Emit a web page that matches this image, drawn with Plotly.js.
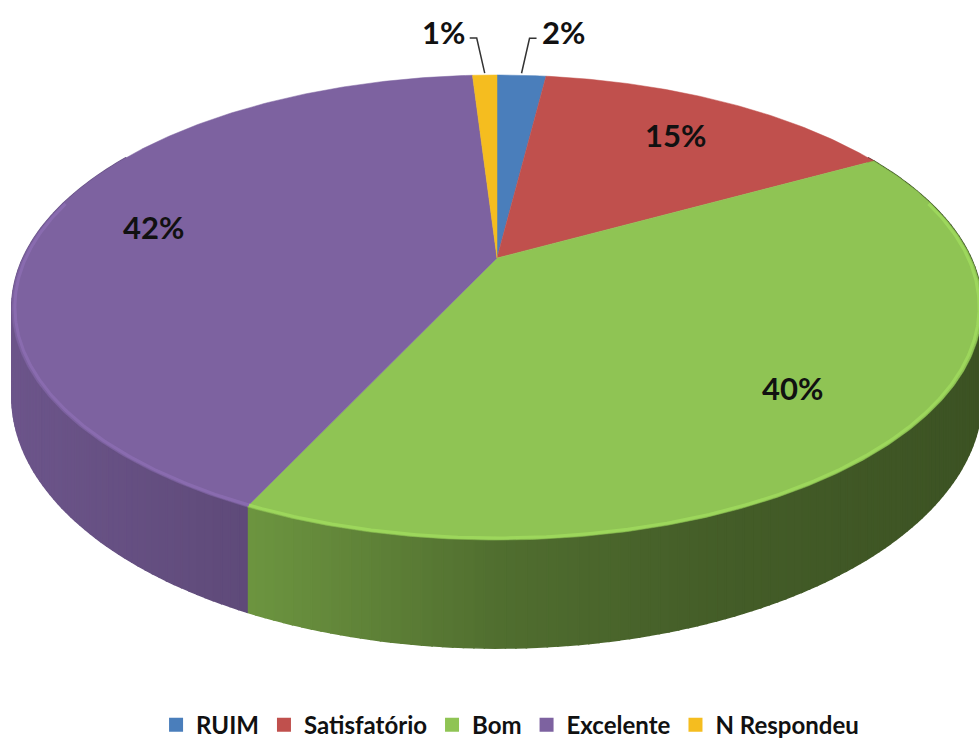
<!DOCTYPE html>
<html>
<head>
<meta charset="utf-8">
<script src="https://cdn.plot.ly/plotly-3.0.1.min.js"></script>
<style>html,body{margin:0;padding:0;background:#fff;}#chart{width:979px;height:740px;}</style>
</head>
<body>
<div id="chart"></div>
<script>
// ---- data ----
const categories = ['RUIM', 'Satisfatório', 'Bom', 'Excelente', 'N Respondeu'];
const values = [2, 15, 40, 42, 1];
const labels = values.map(v => v + '%');
const topColors = ['#4A7EBB', '#C0504D', '#8FC454', '#7D62A0', '#F5BD1F'];

// ---- geometry of the tilted disc (layout constants, pixel space) ----
const CX = 497, CY = 258, RA = 474, RB = 222, PERSP = 0.213, DEPTH = 85;
const total = values.reduce((a, b) => a + b, 0);

function proj(r, thetaDeg, drop) {
  const t = thetaDeg * Math.PI / 180;
  const u = r * Math.sin(t), v = -r * Math.cos(t);
  const den = 1 - PERSP * v;
  return { x: CX + RA * u / den, y: CY + RB * v / den + drop * DEPTH / den };
}
function hexToRgb(h) {
  return [parseInt(h.slice(1, 3), 16), parseInt(h.slice(3, 5), 16), parseInt(h.slice(5, 7), 16)];
}
const shadeStops = [[0, 0.87], [260, 0.75], [500, 0.56], [700, 0.48], [979, 0.42]];
function shadeFactor(x) {
  for (let i = 0; i < shadeStops.length - 1; i++) {
    const [x0, f0] = shadeStops[i], [x1, f1] = shadeStops[i + 1];
    if (x <= x1) return f0 + (f1 - f0) * Math.max(0, (x - x0) / (x1 - x0));
  }
  return shadeStops[shadeStops.length - 1][1];
}
function shade(hex, f) {
  const c = hexToRgb(hex).map(v => Math.round(Math.min(255, v * f)));
  return 'rgb(' + c.join(',') + ')';
}

// slice angles (clockwise from 12 o'clock)
const starts = [], ends = [];
let acc = 0;
values.forEach(v => { starts.push(acc / total * 360); acc += v; ends.push(acc / total * 360); });

const traces = [];
// side walls
values.forEach((v, i) => {
  const a0 = Math.max(starts[i], 60), a1 = Math.min(ends[i], 300);
  if (a1 <= a0) return;
  const n = Math.ceil((a1 - a0) / 1);
  for (let k = 0; k < n; k++) {
    const ta = a0 + (a1 - a0) * k / n, tb = a0 + (a1 - a0) * (k + 1) / n;
    const p1 = proj(1, ta, 0), p2 = proj(1, tb, 0), p3 = proj(1, tb, 1), p4 = proj(1, ta, 1);
    const col = shade(topColors[i], shadeFactor((p1.x + p2.x) / 2));
    traces.push({
      type: 'scatter', mode: 'lines', x: [p1.x, p2.x, p3.x, p4.x, p1.x], y: [p1.y, p2.y, p3.y, p4.y, p1.y],
      fill: 'toself', fillcolor: col, line: { color: col, width: 1.6 }, hoverinfo: 'skip', showlegend: false
    });
  }
});
// top faces
values.forEach((v, i) => {
  const xs = [CX], ys = [CY];
  const n = Math.max(2, Math.ceil((ends[i] - starts[i]) / 0.5));
  for (let k = 0; k <= n; k++) {
    const p = proj(1, starts[i] + (ends[i] - starts[i]) * k / n, 0);
    xs.push(p.x); ys.push(p.y);
  }
  xs.push(CX); ys.push(CY);
  traces.push({
    type: 'scatter', mode: 'lines', x: xs, y: ys, fill: 'toself', fillcolor: topColors[i],
    line: { color: topColors[i], width: 0.5 }, hoverinfo: 'text', text: categories[i] + ': ' + labels[i],
    showlegend: false
  });
});
// light bevel along the front rim
values.forEach((v, i) => {
  const a0 = Math.max(starts[i], 75), a1 = Math.min(ends[i], 285);
  if (a1 <= a0) return;
  const xs = [], ys = [];
  const n = Math.ceil((a1 - a0) / 0.5);
  for (let k = 0; k <= n; k++) {
    const p = proj(0.994, a0 + (a1 - a0) * k / n, 0);
    xs.push(p.x); ys.push(p.y);
  }
  traces.push({ type: 'scatter', mode: 'lines', x: xs, y: ys, line: { color: shade(topColors[i], 1.12), width: 3 },
    opacity: 0.8, hoverinfo: 'skip', showlegend: false });
});

// labels
const annotations = [];
values.forEach((v, i) => {
  const mid = (starts[i] + ends[i]) / 2;
  if (v >= 5) {
    const p = proj(0.76, mid, 0);
    annotations.push({ x: p.x, y: p.y, text: labels[i], showarrow: false, xanchor: 'center', yanchor: 'middle',
      font: { family: 'Lato, sans-serif', size: 31, weight: 'bold', color: '#111' } });
  } else {
    const dir = mid < 180 ? 1 : -1;
    const p = proj(1, mid, 0);
    const q = { x: p.x + 8 * dir, y: p.y - 37 };
    const e = { x: p.x + 15 * dir, y: p.y - 37 };
    traces.push({ type: 'scatter', mode: 'lines', x: [p.x, q.x, e.x], y: [p.y - 2, q.y, e.y],
      line: { color: '#333', width: 1.5 }, hoverinfo: 'skip', showlegend: false });
    annotations.push({ x: e.x + 3 * dir, y: p.y - 43, text: labels[i], showarrow: false,
      xanchor: dir > 0 ? 'left' : 'right', yanchor: 'middle',
      font: { family: 'Lato, sans-serif', size: 31, weight: 'bold', color: '#111' } });
  }
});

// legend entries
categories.forEach((c, i) => {
  traces.push({ type: 'scatter', mode: 'markers', x: [null], y: [null], name: c,
    marker: { symbol: 'square', size: 14, color: topColors[i] }, showlegend: true });
});

const layout = {
  width: 979, height: 740,
  margin: { l: 0, r: 0, t: 0, b: 0, autoexpand: false },
  paper_bgcolor: '#fff', plot_bgcolor: '#fff',
  xaxis: { range: [0, 979], visible: false, fixedrange: true },
  yaxis: { range: [740, 0], visible: false, fixedrange: true },
  showlegend: true,
  legend: { orientation: 'h', x: 0.521, xanchor: 'center', y: 0.02, yanchor: 'middle',
    font: { family: 'Lato, sans-serif', size: 24, weight: 'bold', color: '#111' },
    itemwidth: 30, traceorder: 'normal', bgcolor: 'rgba(0,0,0,0)' },
  annotations: annotations
};
Plotly.newPlot('chart', traces, layout, { displayModeBar: false, staticPlot: true });
</script>
</body>
</html>
